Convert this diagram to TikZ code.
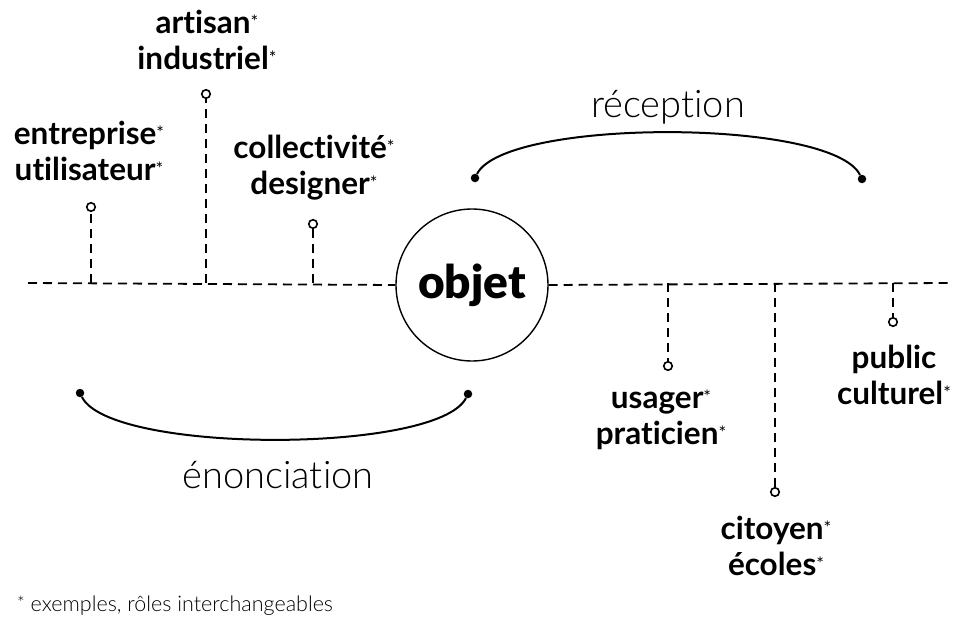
\documentclass[tikz,border=0pt]{standalone}
\usepackage{fontspec}
\setmainfont{Lato}[Ligatures={NoCommon}]
\newfontfamily\lightfont{Lato Light}[Ligatures={NoCommon}]
\newfontfamily\blackfont{Lato Black}
\newcommand{\st}{{\mdseries\fontsize{18}{18}\selectfont\raisebox{0.28em}{*}}}
\begin{document}
\begin{tikzpicture}[x=1pt,y=-1pt,
  dline/.style={line width=1.8pt,dash pattern=on 9pt off 6pt},
  ball/.style={circle,draw,line width=1.6pt,fill=white,inner sep=0pt,minimum size=8.5pt},
  dot/.style={circle,fill=black,inner sep=0pt,minimum size=8.5pt},
  arcl/.style={line width=2pt},
  lab/.style={align=center,font=\bfseries\fontsize{31.5}{36}\selectfont,inner sep=0pt},
  big/.style={font=\lightfont\fontsize{38}{38}\selectfont,inner sep=0pt}]
\useasboundingbox (0,0) rectangle (954,624);
% central object
\node[circle,draw,line width=1.4pt,minimum size=152pt,inner sep=0pt] (obj) at (472,285) {};
\node[font=\blackfont\fontsize{46}{46}\selectfont,inner sep=0pt] (objt) at (472,285) {objet};
% axis
\coordinate (L) at (28,283);
\coordinate (R) at (948,283);
\draw[dline] (L) -- (obj.west);
\draw[dline] (obj.east) -- (R);
% left roles
\coordinate (b1) at (91,283);
\coordinate (b2) at (206,283);
\coordinate (b3) at (313,283);
\node[ball] (k1) at (91,207) {};
\node[ball] (k2) at (206,94) {};
\node[ball] (k3) at (313,224) {};
\draw[dline] (b1) -- (k1);
\draw[dline] (b2) -- (k2);
\draw[dline] (b3) -- (k3);
\node[lab] (t1) at (89,151) {entreprise\st\\utilisateur\st};
\node[lab] (t2) at (207,40) {artisan\st\\industriel\st};
\node[lab] (t3) at (314,168) {collectivité\st\\designer\st};
% right roles
\coordinate (b4) at (668,283);
\coordinate (b5) at (775,283);
\coordinate (b6) at (893,283);
\node[ball] (k4) at (668,366) {};
\node[ball] (k5) at (775,492) {};
\node[ball] (k6) at (893,322) {};
\draw[dline] (b4) -- (k4);
\draw[dline] (b5) -- (k5);
\draw[dline] (b6) -- (k6);
\node[lab] (t4) at (661,420) {usager\st\\praticien\st};
\node[lab] (t5) at (776,546) {citoyen\st\\écoles\st};
\node[lab] (t6) at (894,375) {public\\culturel\st};
% arcs
\node[dot] (r1) at (475,178) {};
\node[dot] (r2) at (862,179) {};
\draw[arcl] (r1) .. controls (505,118) and (832,118) .. (r2);
\node[big] (rec) at (668,107) {réception};
\node[dot] (e1) at (80,393) {};
\node[dot] (e2) at (468,394) {};
\draw[arcl] (e1) .. controls (110,454) and (438,454) .. (e2);
\node[big] (eno) at (278,475) {énonciation};
% footnote
\node[font=\lightfont\fontsize{21.5}{21.5}\selectfont,anchor=west,inner sep=0pt] (fn) at (17,606) {{\fontsize{18}{18}\selectfont\raisebox{0.12em}{*}} exemples, rôles interchangeables};
\end{tikzpicture}
\end{document}
